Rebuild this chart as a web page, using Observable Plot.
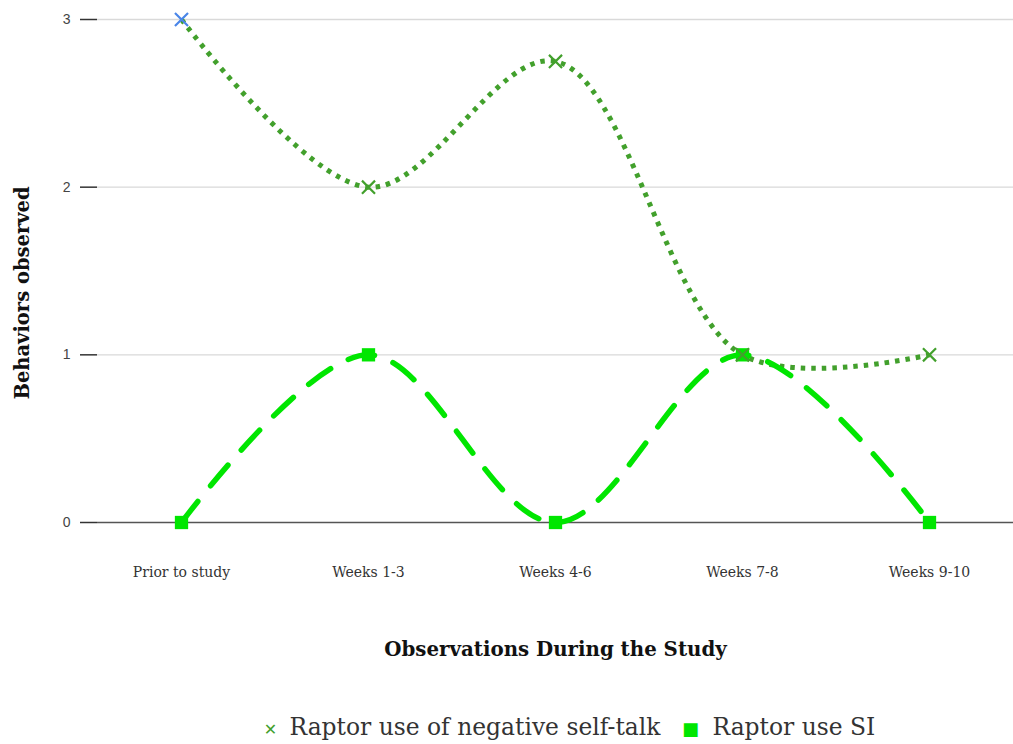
<!DOCTYPE html>
<html><head><meta charset="utf-8">
<script src="https://cdn.jsdelivr.net/npm/d3@7"></script>
<script src="https://cdn.jsdelivr.net/npm/@observablehq/plot@0.6"></script>
<style>
body{margin:0;background:#fff;}
</style>
</head><body>
<div id="chart"></div>
<script>
const categories = ["Prior to study","Weeks 1-3","Weeks 4-6","Weeks 7-8","Weeks 9-10"];
const negSelfTalk = [3, 2, 2.75, 1, 1];
const useSI = [0, 1, 0, 1, 0];
const yTicks = [0, 1, 2, 3];
const seriesNames = ["Raptor use of negative self-talk", "Raptor use SI"];
const xTitle = "Observations During the Study";
const yTitle = "Behaviors observed";

const neg = categories.map((c,i)=>({cat:c, v:negSelfTalk[i], i}));
const si = categories.map((c,i)=>({cat:c, v:useSI[i], i}));
const negColor = "#42a02c", siColor = "#00e600";
const serif = "DejaVu Serif, serif";

const plot = Plot.plot({
  width: 1013, height: 744,
  marginLeft: 97, marginRight: 0, marginTop: 19, marginBottom: 222,
  x: {type:"point", domain: categories, range:[181, 929], padding:0},
  y: {domain:[0,3]},
  style:{background:"#fff"},
  marks: [
    Plot.ruleY(yTicks.filter(d=>d>0), {stroke:"#d9d9d9", strokeWidth:1.3}),
    Plot.ruleY([0], {stroke:"#555", strokeWidth:1.3}),
    Plot.axisY({ticks: yTicks, tickFormat:"d", tickSize:17, tickPadding:10, stroke:"#333", strokeWidth:1.5, label:null,
      fontFamily:"Liberation Sans, Arial, sans-serif", fontSize:14, fill:"#444"}),
    Plot.axisX({tickSize:0, tickPadding:45, label:null, fontFamily:serif, fontSize:14, fill:"#333"}),
    Plot.text([xTitle], {frameAnchor:"bottom", dy:133, fontFamily:serif, fontWeight:"bold", fontSize:19.8, fill:"#111"}),
    Plot.text([yTitle], {frameAnchor:"left", textAnchor:"middle", dx:-75, dy:22, rotate:-90, fontFamily:serif, fontWeight:"bold", fontSize:19.5, fill:"#111"}),
    Plot.line(neg, {x:"cat", y:"v", curve:"catmull-rom", stroke:negColor, strokeWidth:5, strokeDasharray:"4.5,6", strokeLinecap:"butt"}),
    Plot.line(si, {x:"cat", y:"v", curve:"catmull-rom", stroke:siColor, strokeWidth:5.5, strokeDasharray:"27,20", strokeLinecap:"round"}),
    Plot.dot(si, {x:"cat", y:"v", symbol:"square", fill:siColor, r:7.5}),
    Plot.dot(neg, {x:"cat", y:"v", symbol:"times", stroke:d=>d.i===0?"#4a86e8":negColor, r:6, strokeWidth:2.2}),
    // legend
    Plot.text(["✕"], {frameAnchor:"bottom", dx:-285, dy:212, fontFamily:"DejaVu Sans, sans-serif", fontSize:16, fill:negColor}),
    Plot.text([seriesNames[0]], {frameAnchor:"bottom", textAnchor:"start", dx:-266, dy:212, fontFamily:serif, fontSize:23.4, fill:"#333"}),
    Plot.text(["■"], {frameAnchor:"bottom", dx:135, dy:212, fontFamily:"DejaVu Sans, sans-serif", fontSize:18, fill:siColor}),
    Plot.text([seriesNames[1]], {frameAnchor:"bottom", textAnchor:"start", dx:157, dy:212, fontFamily:serif, fontSize:23.4, fill:"#333"})
  ]
});
document.getElementById("chart").appendChild(plot);
</script>
</body></html>
